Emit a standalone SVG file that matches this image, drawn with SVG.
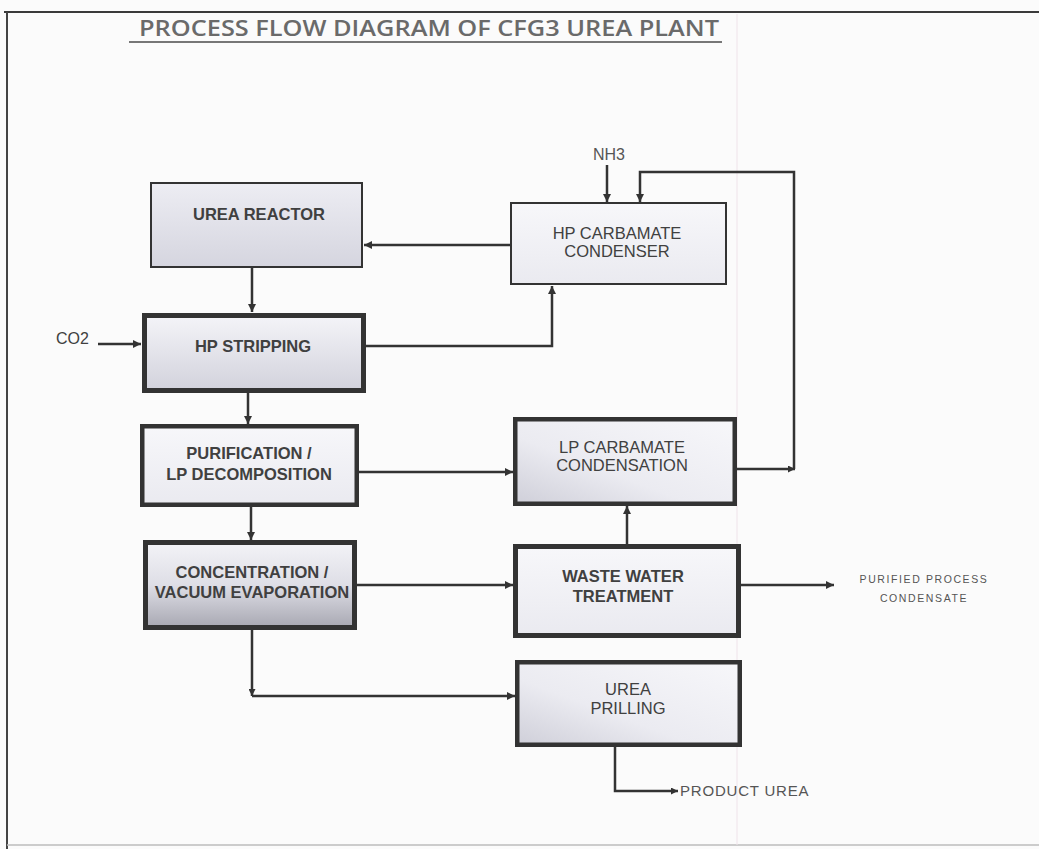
<svg xmlns="http://www.w3.org/2000/svg" width="1039" height="849" viewBox="0 0 1039 849">
<style>
.box{stroke:#333;}
.thin{stroke-width:2;}
.thick{stroke-width:5;}
.lbl{font-family:"Liberation Sans",Arial,sans-serif;font-size:16.5px;fill:#404040;text-anchor:middle;}
.b{font-weight:bold;}
.con{fill:none;stroke:#333;stroke-width:2.5;}
.small{font-family:"Liberation Sans",Arial,sans-serif;fill:#555;}
</style>
<defs>
<marker id="ah" viewBox="0 0 10 10" refX="10" refY="5" markerWidth="9" markerHeight="8" orient="auto" markerUnits="userSpaceOnUse"><path d="M0,0 L10,5 L0,10 z" fill="#333"/></marker>
<marker id="ahs" viewBox="0 0 10 10" refX="10" refY="5" markerWidth="7" markerHeight="7" orient="auto" markerUnits="userSpaceOnUse"><path d="M0,0 L10,5 L0,10 z" fill="#333"/></marker>
<linearGradient id="gA" x1="0" y1="0" x2="0" y2="1"><stop offset="0" stop-color="#ededf3"/><stop offset="1" stop-color="#d5d5df"/></linearGradient>
<linearGradient id="gB" x1="0" y1="0" x2="0" y2="1"><stop offset="0" stop-color="#f4f4f8"/><stop offset="1" stop-color="#d2d2dc"/></linearGradient>
<linearGradient id="gC" x1="0" y1="0" x2="0" y2="1"><stop offset="0" stop-color="#f7f7fa"/><stop offset="1" stop-color="#eaeaf0"/></linearGradient>
<linearGradient id="gD" x1="0" y1="0" x2="0" y2="1"><stop offset="0" stop-color="#f3f3f7"/><stop offset="0.5" stop-color="#dedee6"/><stop offset="1" stop-color="#a8a8b2"/></linearGradient>
<linearGradient id="gE" x1="1" y1="0" x2="0" y2="1"><stop offset="0" stop-color="#f7f7fa"/><stop offset="0.6" stop-color="#ebebf1"/><stop offset="1" stop-color="#cfcfd9"/></linearGradient>
</defs>
<rect width="1039" height="849" fill="#fbfbfb"/>
<g id="frame">
<path d="M4,12 H1039" stroke="#3a3a3a" stroke-width="2"/>
<path d="M7,12 V849" stroke="#444" stroke-width="2"/>
<path d="M7,845 H1039" stroke="#bdbdbd" stroke-width="1.5"/>
<path d="M737,14 V845" stroke="#efe3ea" stroke-width="1"/>
</g>
<g id="title">
<text x="139" y="36" textLength="580" lengthAdjust="spacingAndGlyphs" style="font-family:'Open Sans','Noto Sans',sans-serif;font-size:22px;font-weight:600;fill:#6a6a6a;">PROCESS FLOW DIAGRAM OF CFG3 UREA PLANT</text>
<path d="M129,42 H722" stroke="#777" stroke-width="2"/>
</g>
<g id="connectors">
<path class="con" d="M510,245 H364" marker-end="url(#ah)"/>
<path class="con" d="M252,268 V312" marker-end="url(#ah)"/>
<path class="con" d="M98,344 H141" stroke-width="3" marker-end="url(#ah)"/>
<path class="con" d="M366,346 H552 V286" stroke-width="3.5" marker-end="url(#ah)"/>
<path class="con" d="M248,393 V424" marker-end="url(#ah)"/>
<path class="con" d="M251,507 V540" marker-end="url(#ah)"/>
<path class="con" d="M359,472 H513" marker-end="url(#ah)"/>
<path class="con" d="M357,585 H513" marker-end="url(#ah)"/>
<path class="con" d="M627,544 V506" marker-end="url(#ah)"/>
<path class="con" d="M741,585 H834" marker-end="url(#ah)"/>
<path class="con" d="M737,469 H795" stroke-width="3" marker-end="url(#ahs)"/>
<path class="con" d="M794,469 V172 H640 V202" stroke-width="3" marker-end="url(#ah)"/>
<path class="con" d="M607,165 V202" marker-end="url(#ah)"/>
<path class="con" d="M252,630 V696" marker-end="url(#ahs)"/>
<path class="con" d="M252,696 H515" marker-end="url(#ah)"/>
<path class="con" d="M615,747 V791 H678" stroke-width="2" marker-end="url(#ahs)"/>
</g>
<g id="urea-reactor">
<rect class="box thin" x="151" y="183" width="211" height="84" fill="url(#gA)"/>
<text class="lbl b" x="259" y="220">UREA REACTOR</text>
</g>
<g id="hp-carbamate-condenser">
<rect class="box thin" x="511" y="203" width="215" height="81" fill="url(#gC)"/>
<text class="lbl" x="617" y="239">HP CARBAMATE</text>
<text class="lbl" x="617" y="257">CONDENSER</text>
</g>
<g id="hp-stripping">
<rect class="box thick" x="144.5" y="315.5" width="219" height="75" fill="url(#gB)"/>
<text class="lbl b" x="253" y="352">HP STRIPPING</text>
</g>
<g id="purification">
<rect class="box" stroke-width="4.5" x="142.25" y="426.25" width="214.5" height="78.5" fill="url(#gC)"/>
<text class="lbl b" x="249" y="459">PURIFICATION /</text>
<text class="lbl b" x="249" y="480">LP DECOMPOSITION</text>
</g>
<g id="concentration">
<rect class="box thick" x="145.5" y="542.5" width="209" height="85" fill="url(#gD)"/>
<text class="lbl b" x="252" y="578">CONCENTRATION /</text>
<text class="lbl b" x="252" y="598">VACUUM EVAPORATION</text>
</g>
<g id="lp-carbamate">
<rect class="box" stroke-width="4.5" x="515.25" y="419.25" width="219.5" height="84.5" fill="url(#gE)"/>
<text class="lbl" x="622" y="453">LP CARBAMATE</text>
<text class="lbl" x="622" y="471">CONDENSATION</text>
</g>
<g id="waste-water">
<rect class="box thick" x="515.5" y="546.5" width="223" height="89" fill="url(#gC)"/>
<text class="lbl b" x="623" y="582">WASTE WATER</text>
<text class="lbl b" x="623" y="602">TREATMENT</text>
</g>
<g id="urea-prilling">
<rect class="box" stroke-width="4.5" x="517.25" y="662.25" width="222.5" height="82.5" fill="url(#gE)"/>
<text class="lbl" x="628" y="695">UREA</text>
<text class="lbl" x="628" y="714">PRILLING</text>
</g>
<g id="labels">
<text class="small" x="609" y="160" text-anchor="middle" style="font-size:16px;">NH3</text>
<text class="small" x="56" y="344" style="font-size:16px;fill:#404040;">CO2</text>
<text class="small" x="924" y="583" text-anchor="middle" style="font-size:10.5px;letter-spacing:1.6px;">PURIFIED PROCESS</text>
<text class="small" x="924" y="602" text-anchor="middle" style="font-size:10.5px;letter-spacing:1.6px;">CONDENSATE</text>
<text class="small" x="680" y="796" style="font-size:15px;letter-spacing:0.8px;">PRODUCT UREA</text>
</g>
</svg>
